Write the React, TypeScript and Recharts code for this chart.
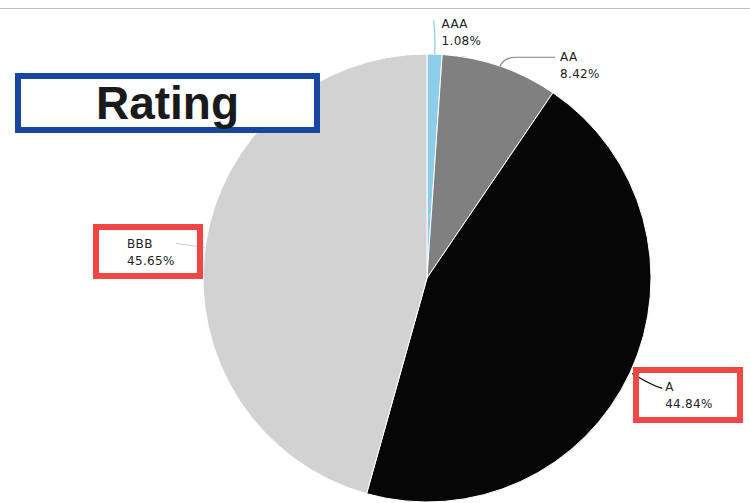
import React from "react";
import { PieChart, Pie, Cell } from "recharts";

const categories = ["AAA", "AA", "A", "BBB"];
const shares = [1.08, 8.42, 44.84, 45.65];
const colors = ["#8ccdec", "#808080", "#060606", "#d3d2d3"];

const data = categories.map((name, i) => ({ name, value: shares[i] }));

const RADIAN = Math.PI / 180;

// Leader-line / text layout relative to the slice's arc midpoint
const labelLayout: Record<string, { path: (x: number, y: number) => string; tx: number; ty: number }> = {
  AAA: { path: (x, y) => `M${x},${y} Q${x + 1},${y - 18} ${x - 1},${y - 34}`, tx: 7, ty: -26 },
  AA: { path: (x, y) => `M${x},${y} Q${x + 4},${y - 9} ${x + 16},${y - 9} L${x + 55},${y - 9}`, tx: 60, ty: -5 },
  A: { path: (x, y) => `M${x + 2},${y + 1} Q${x + 20},${y + 12} ${x + 32},${y + 16}`, tx: 35, ty: 19 },
  BBB: { path: (x, y) => `M${x},${y} L${x - 29},${y - 4}`, tx: -78, ty: 0 },
};

const renderLabel = (props: any) => {
  const { cx, cy, midAngle, outerRadius, index, name, value } = props;
  const mx = cx + outerRadius * Math.cos(-midAngle * RADIAN);
  const my = cy + outerRadius * Math.sin(-midAngle * RADIAN);
  const lay = labelLayout[name];
  const color = colors[index];
  const tx = mx + lay.tx;
  const ty = my + lay.ty;
  return (
    <g>
      <path d={lay.path(mx, my)} stroke={color} strokeWidth={1.2} fill="none" />
      <text
        x={tx}
        y={ty}
        fill="#222"
        fontSize={12}
        fontFamily="DejaVu Sans, sans-serif"
        letterSpacing={0.3}
      >
        <tspan x={tx} y={ty}>{name}</tspan>
        <tspan x={tx} y={ty + 17}>{Number(value).toFixed(2)}%</tspan>
      </text>
    </g>
  );
};

export default function App() {
  return (
    <div style={{ position: "absolute", left: 0, top: 0, width: 750, height: 503, background: "#fff", overflow: "hidden" }}>
      <div style={{ position: "absolute", left: 0, top: 8, width: 750, height: 1, background: "#bdbdbd" }} />
      <PieChart
        width={750}
        height={503}
        margin={{ top: 0, right: 0, bottom: 0, left: 0 }}
        style={{ position: "absolute", left: 0, top: 0 }}
      >
        <Pie
          data={data}
          dataKey="value"
          nameKey="name"
          cx={427}
          cy={278}
          outerRadius={224}
          startAngle={90}
          endAngle={-270}
          stroke="#ffffff"
          strokeWidth={1}
          label={renderLabel}
          labelLine={false}
          isAnimationActive={false}
        >
          {data.map((d, i) => (
            <Cell key={d.name} fill={colors[i]} />
          ))}
        </Pie>
      </PieChart>
      <div
        style={{
          position: "absolute",
          left: 15,
          top: 73,
          width: 305,
          height: 60,
          boxSizing: "border-box",
          border: "6px solid #1546a0",
          background: "#fff",
          display: "flex",
          alignItems: "center",
          justifyContent: "center",
          fontFamily: "Liberation Sans, Arial, sans-serif",
          fontWeight: "bold",
          fontSize: 46,
          color: "#1a1a1a",
          lineHeight: 1,
        }}
      >
        Rating
      </div>
      <div
        style={{
          position: "absolute",
          left: 93,
          top: 224,
          width: 110,
          height: 55,
          boxSizing: "border-box",
          border: "6px solid #f04646",
        }}
      />
      <div
        style={{
          position: "absolute",
          left: 633,
          top: 367,
          width: 110,
          height: 56,
          boxSizing: "border-box",
          border: "6px solid #f04646",
        }}
      />
    </div>
  );
}
